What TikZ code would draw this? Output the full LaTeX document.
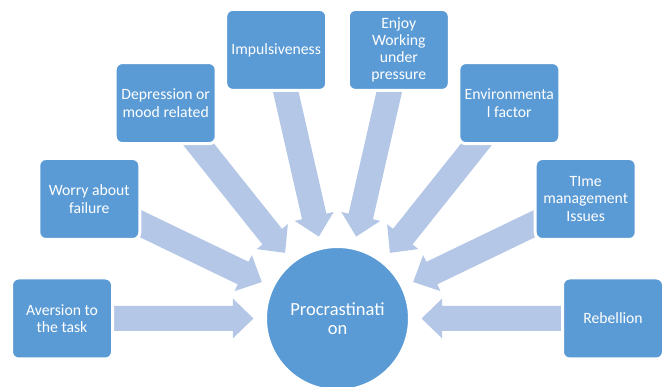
\documentclass[tikz,border=0pt]{standalone}
\usepackage{fontspec}
\setmainfont{Carlito}
\usetikzlibrary{calc}
\pgfdeclarelayer{bg}
\pgfsetlayers{bg,main}
\definecolor{boxblue}{HTML}{5B9BD5}
\definecolor{arrowblue}{HTML}{B4C7E7}
\tikzset{
  cause/.style={rectangle, rounded corners=7pt, fill=boxblue, draw=white,
    line width=3pt, minimum width=101pt, minimum height=81pt, text=white,
    align=center, inner sep=0pt, font=\fontsize{15.7}{17.3}\selectfont},
  hub/.style={circle, fill=boxblue, draw=white, line width=3pt,
    minimum size=144pt, text=white, align=center, inner sep=0pt,
    font=\fontsize{18.5}{19.3}\selectfont},
  flow/.style={fill=arrowblue}
}
% block arrow from the centre of node #1 towards node #2, stopping 84pt short of its centre
\newcommand\feeds[2]{%
  \coordinate (tip) at ($(#2.center)!84pt!(#1.center)$);
  \coordinate (hb) at ($(tip)!20.7pt!(#1.center)$);
  \fill[flow] ($(#1.center)!12.5pt!90:(tip)$)
    -- ($(hb)!12.5pt!-90:(#1.center)$)
    -- ($(hb)!20pt!-90:(#1.center)$)
    -- (tip)
    -- ($(hb)!20pt!90:(#1.center)$)
    -- ($(hb)!12.5pt!90:(#1.center)$)
    -- ($(#1.center)!12.5pt!-90:(tip)$) -- cycle;
}
\begin{document}
\begin{tikzpicture}[x=1pt,y=-1pt]
  \useasboundingbox (0,0) rectangle (665,387);
  \clip (0,0) rectangle (665,387);
  \node[hub] (c) at (337.5,318.5) {Procrastinati\\on};
  \node[cause] (b1) at (62,318.5) {Aversion to\\the task};
  \node[cause] (b2) at (89.3,199) {Worry about\\failure};
  \node[cause] (b3) at (165.7,103.1) {Depression or\\mood related};
  \node[cause] (b4) at (276.2,49.9) {Impulsiveness};
  \node[cause] (b5) at (398.8,49.9) {Enjoy\\Working\\under\\pressure};
  \node[cause] (b6) at (509.3,103.1) {Environmenta\\l factor};
  \node[cause] (b7) at (585.7,199) {TIme\\management\\Issues};
  \node[cause] (b8) at (613,318.5) {Rebellion};
  \begin{pgfonlayer}{bg}
    \foreach \b in {b1,b2,b3,b4,b5,b6,b7,b8} {\feeds{\b}{c}}
  \end{pgfonlayer}
\end{tikzpicture}
\end{document}
